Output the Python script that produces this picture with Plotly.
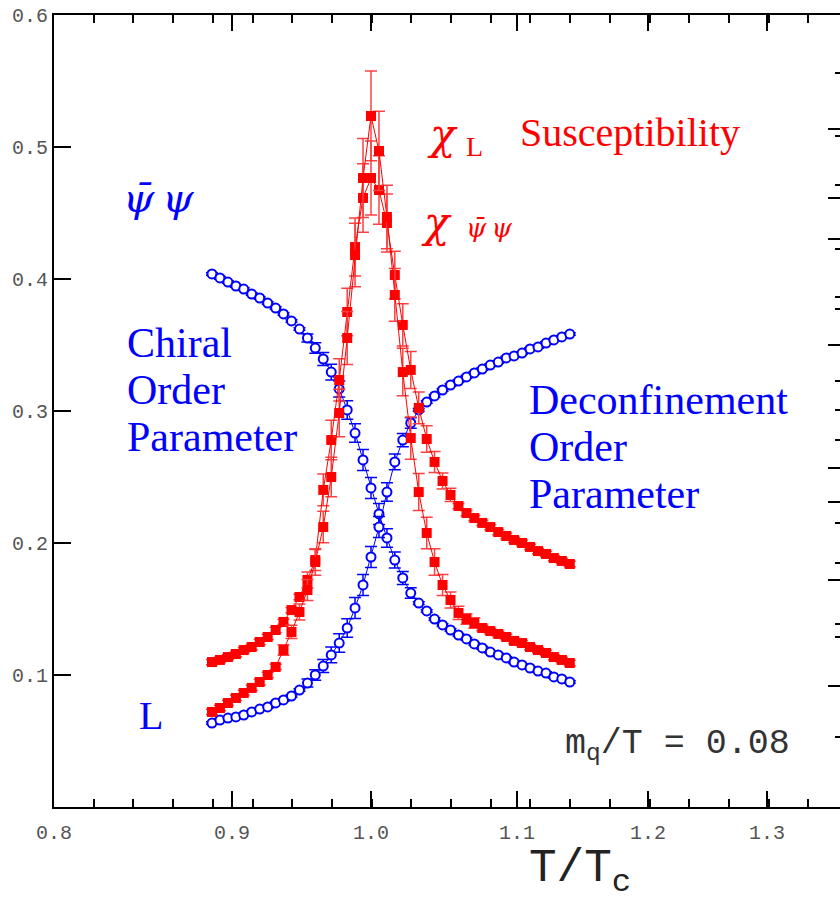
import plotly.graph_objects as go

# ---------------- data ----------------
T_over_Tc = [0.8864, 0.8921, 0.8978, 0.9035, 0.9091, 0.9148, 0.9205, 0.9262, 0.9319, 0.9375,
             0.9432, 0.9489, 0.9546, 0.9602, 0.9659, 0.9716, 0.9773, 0.9830, 0.9886, 0.9943,
             1.0000, 1.0057, 1.0114, 1.0170, 1.0227, 1.0284, 1.0341, 1.0398, 1.0454, 1.0511,
             1.0568, 1.0625, 1.0682, 1.0738, 1.0795, 1.0852, 1.0909, 1.0966, 1.1022, 1.1079,
             1.1136, 1.1193, 1.1250, 1.1306, 1.1363, 1.1420]

chiral_pbp = [0.4038, 0.4008, 0.3977, 0.3947, 0.3924, 0.3886, 0.3856, 0.3818, 0.3780, 0.3735,
              0.3682, 0.3621, 0.3553, 0.3477, 0.3394, 0.3295, 0.3167, 0.3008, 0.2833, 0.2629,
              0.2417, 0.2220, 0.2038, 0.1871, 0.1735, 0.1621, 0.1545, 0.1485, 0.1424, 0.1379,
              0.1341, 0.1303, 0.1273, 0.1235, 0.1205, 0.1174, 0.1152, 0.1129, 0.1098, 0.1076,
              0.1053, 0.1030, 0.1015, 0.0985, 0.0970, 0.0947]
chiral_err = [0.001] * 12 + [0.003, 0.004, 0.005, 0.006, 0.006, 0.007, 0.007, 0.008,
                             0.008, 0.008, 0.007, 0.006, 0.005, 0.004] + [0.001] * 20

polyakov_L = [0.0636, 0.0659, 0.0674, 0.0682, 0.0697, 0.0720, 0.0742, 0.0758, 0.0788, 0.0811,
              0.0841, 0.0886, 0.0939, 0.1000, 0.1068, 0.1152, 0.1242, 0.1356, 0.1508, 0.1682,
              0.1894, 0.2121, 0.2386, 0.2614, 0.2780, 0.2909, 0.3008, 0.3068, 0.3114, 0.3159,
              0.3197, 0.3227, 0.3258, 0.3288, 0.3318, 0.3348, 0.3371, 0.3402, 0.3417, 0.3439,
              0.3470, 0.3485, 0.3515, 0.3538, 0.3561, 0.3583]
polyakov_err = [0.001] * 12 + [0.003, 0.004, 0.005, 0.006, 0.007, 0.007, 0.008, 0.008,
                               0.008, 0.008, 0.007, 0.006, 0.005, 0.004] + [0.001] * 20

chi_sharp = [0.0720, 0.0750, 0.0788, 0.0826, 0.0864, 0.0902, 0.0947, 0.1000, 0.1061, 0.1189,
             0.1326, 0.1477, 0.1644, 0.1856, 0.2121, 0.2500, 0.2985, 0.3553, 0.4182, 0.4765,
             0.5235, 0.4970, 0.4470, 0.3879, 0.3295, 0.2795, 0.2386, 0.2076, 0.1856, 0.1682,
             0.1568, 0.1470, 0.1424, 0.1394, 0.1356, 0.1333, 0.1311, 0.1288, 0.1258, 0.1242,
             0.1212, 0.1189, 0.1167, 0.1136, 0.1114, 0.1091]
chi_sharp_err = [0.002] * 9 + [0.004, 0.005, 0.006, 0.008, 0.010, 0.012, 0.015, 0.018, 0.020,
                               0.024, 0.030, 0.034, 0.030, 0.024, 0.020, 0.018, 0.016, 0.014,
                               0.012, 0.010, 0.008, 0.006, 0.005, 0.004, 0.004] + [0.002] * 12

chi_wide = [0.1098, 0.1114, 0.1136, 0.1159, 0.1189, 0.1212, 0.1250, 0.1288, 0.1341, 0.1402,
            0.1492, 0.1591, 0.1720, 0.1871, 0.2402, 0.2780, 0.3235, 0.3750, 0.4242, 0.4614,
            0.4765, 0.4674, 0.4424, 0.4030, 0.3652, 0.3311, 0.3023, 0.2788, 0.2614, 0.2470,
            0.2364, 0.2280, 0.2227, 0.2189, 0.2152, 0.2121, 0.2083, 0.2053, 0.2023, 0.2000,
            0.1970, 0.1939, 0.1917, 0.1886, 0.1864, 0.1841]
chi_wide_err = [0.002] * 12 + [0.006, 0.008, 0.012, 0.015, 0.016, 0.018, 0.022, 0.026, 0.028,
                               0.026, 0.022, 0.018, 0.016, 0.014, 0.012, 0.010, 0.008, 0.006,
                               0.005] + [0.002] * 15

x_tick_labels = ["0.8", "0.9", "1.0", "1.1", "1.2", "1.3"]
y_tick_values = [0.1, 0.2, 0.3, 0.4, 0.5, 0.6]
y_tick_labels = ["0.1", "0.2", "0.3", "0.4", "0.5", "0.6"]

# ---------------- layout geometry ----------------
W, H = 840, 904
L_M, R_M, T_M, B_M = 54, 0, 15, 97
PX_PER_UNIT = 1400.0
X0_PX = 371  # pixel of T/Tc = 1.0


def px_to_x(px):
    return 1.0 + (px - X0_PX) / PX_PER_UNIT


x_range = [px_to_x(L_M), px_to_x(W - R_M)]
x_tick_pos = [px_to_x(p) for p in (54, 232, 371, 517, 648, 767)]

right_major = [0.514, 0.461, 0.430, 0.350, 0.257, 0.231, 0.172, 0.092]
right_minor = [0.556, 0.508, 0.471, 0.423, 0.386, 0.377, 0.323, 0.301, 0.278,
               0.215, 0.185, 0.139, 0.129, 0.053]

BLUE = "#0000ff"
RED = "#ff0000"


def paper(px, py):
    return (px - L_M) / (W - L_M - R_M), (H - B_M - py) / (H - B_M - T_M)


fig = go.Figure()

for yvals, err in ((chiral_pbp, chiral_err), (polyakov_L, polyakov_err)):
    fig.add_trace(go.Scatter(
        x=T_over_Tc, y=yvals, mode="lines+markers",
        line=dict(color=BLUE, width=1),
        marker=dict(symbol="circle", size=9, color="white", line=dict(color=BLUE, width=2)),
        error_y=dict(type="data", array=err, color=BLUE, thickness=1.5, width=6),
        showlegend=False))

for yvals, err in ((chi_wide, chi_wide_err), (chi_sharp, chi_sharp_err)):
    fig.add_trace(go.Scatter(
        x=T_over_Tc, y=yvals, mode="lines+markers",
        line=dict(color=RED, width=1),
        marker=dict(symbol="square", size=10, color=RED, line=dict(width=0)),
        error_y=dict(type="data", array=err, color="#ff4040", thickness=1.5, width=6),
        showlegend=False))

# empty trace so that the right-hand tick axis gets drawn
fig.add_trace(go.Scatter(x=[], y=[], yaxis="y2", showlegend=False, hoverinfo="skip"))

annos = []


def add_text(text, px, py, size, color, family, xanchor="center"):
    xp, yp = paper(px, py)
    annos.append(dict(text=text, x=xp, y=yp, xref="paper", yref="paper",
                      xanchor=xanchor, yanchor="middle", showarrow=False,
                      font=dict(size=size, color=color, family=family)))


serif = "Liberation Serif"
mono = "Liberation Mono"
add_text("<i>ψ\u0304\u2009ψ</i>", 158, 198, 40, BLUE, "DejaVu Serif")
add_text("Chiral", 125, 343, 42, BLUE, serif, "left")
add_text("Order", 125, 390, 42, BLUE, serif, "left")
add_text("Parameter", 125, 437, 42, BLUE, serif, "left")
add_text("Deconfinement", 527, 400, 42, BLUE, serif, "left")
add_text("Order", 527, 447, 42, BLUE, serif, "left")
add_text("Parameter", 527, 494, 42, BLUE, serif, "left")
add_text("<i>χ</i>", 442, 134, 42, RED, "DejaVu Serif")
add_text("L", 474, 146, 28, RED, serif)
add_text("Susceptibility", 518, 132, 40, RED, serif, "left")
add_text("<i>χ</i>", 436, 222, 42, RED, "DejaVu Serif")
add_text("<i>ψ\u0304\u2009ψ</i>", 489, 228, 26, RED, "DejaVu Serif")
add_text("L", 151, 715, 40, BLUE, serif)
add_text("m<sub>q</sub>/T = 0.08", 563, 745, 35, "#333333", mono, "left")
add_text("T/T<sub>c</sub>", 580, 872, 46, "#222222", mono)

fig.update_layout(
    width=W, height=H,
    margin=dict(l=L_M, r=R_M, t=T_M, b=B_M),
    paper_bgcolor="white", plot_bgcolor="white",
    annotations=annos,
    xaxis=dict(range=x_range, showgrid=False, zeroline=False,
               showline=True, linecolor="black", linewidth=2, mirror="ticks",
               tickmode="array", tickvals=x_tick_pos, ticktext=x_tick_labels,
               ticks="inside", ticklen=16, tickwidth=2, tickcolor="black",
               ticklabelstandoff=6,
               tickfont=dict(family=mono, size=20, color="#555555"),
               minor=dict(tick0=x_range[0], dtick=39.7 / PX_PER_UNIT, ticks="inside",
                          ticklen=8, tickwidth=1.5, tickcolor="black", showgrid=False)),
    yaxis=dict(range=[0, 0.6], showgrid=False, zeroline=False,
               showline=True, linecolor="black", linewidth=2,
               tickmode="array", tickvals=y_tick_values, ticktext=y_tick_labels,
               ticks="inside", ticklen=17, tickwidth=1.5, tickcolor="black",
               tickfont=dict(family=mono, size=20, color="#555555")),
    yaxis2=dict(range=[0, 0.6], overlaying="y", side="right", showgrid=False,
                zeroline=False, showline=False, showticklabels=False,
                tickmode="array", tickvals=right_major,
                ticks="inside", ticklen=12, tickwidth=2, tickcolor="black",
                minor=dict(tickmode="array", tickvals=right_minor, ticks="inside",
                           ticklen=5, tickwidth=2, tickcolor="black", showgrid=False)),
)

fig.write_html("out.html")
